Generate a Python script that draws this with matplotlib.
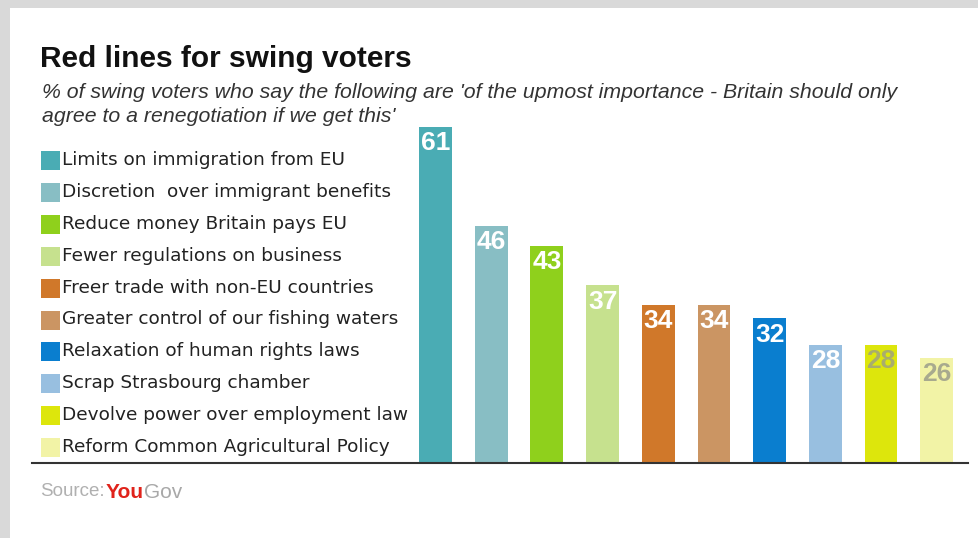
import matplotlib.pyplot as plt
from matplotlib.patches import Rectangle
from matplotlib.lines import Line2D

categories = [
    "Limits on immigration from EU",
    "Discretion  over immigrant benefits",
    "Reduce money Britain pays EU",
    "Fewer regulations on business",
    "Freer trade with non-EU countries",
    "Greater control of our fishing waters",
    "Relaxation of human rights laws",
    "Scrap Strasbourg chamber",
    "Devolve power over employment law",
    "Reform Common Agricultural Policy",
]
values = [61, 46, 43, 37, 34, 34, 32, 28, 28, 26]
colors = ["#4aacb4", "#88bec4", "#8fd01c", "#c6e18e", "#d0782a",
          "#cb9563", "#0a7ecf", "#98bfe0", "#dde60c", "#f2f3a6"]
label_colors = ["white"] * 8 + ["#a9ad6c", "#a8aa8e"]

W, H = 979, 538
sans = ["Liberation Sans", "DejaVu Sans"]
wide = ["DejaVu Sans"]

fig = plt.figure(figsize=(W / 100, H / 100), dpi=100)
fig.patch.set_facecolor("white")

def fx(px):
    return px / W

def fy(py):
    return 1 - py / H

# card shadow on top and left edges
fig.patches.append(Rectangle((0, fy(8)), 1, 8 / H, transform=fig.transFigure,
                             facecolor="#d9d9d9", edgecolor="none", zorder=0))
fig.patches.append(Rectangle((0, 0), 10 / W, 1, transform=fig.transFigure,
                             facecolor="#d9d9d9", edgecolor="none", zorder=0))

# bars
ax = fig.add_axes([fx(407.6), fy(463), fx(557), (463 - 127) / H])
x = range(len(values))
ax.bar(x, values, width=0.59, color=colors)
ax.set_xlim(-0.5, 9.5)
ax.set_ylim(10.1, 61)
ax.axis("off")
for i, v in enumerate(values):
    ax.annotate(str(v), (i, v), xytext=(0, -3), textcoords="offset points",
                ha="center", va="top", fontsize=19, fontweight="bold",
                color=label_colors[i], family=sans, annotation_clip=False)

# baseline
fig.lines.append(Line2D([fx(32), fx(968)], [fy(463), fy(463)],
                        transform=fig.transFigure, color="#333333", lw=1.5))

# title and subtitle
fig.text(fx(40), fy(59), "Red lines for swing voters", fontsize=21.5,
         fontweight="bold", family=sans, va="center", color="#111111")
fig.text(fx(42), fy(92), "% of swing voters who say the following are 'of the upmost "
         "importance - Britain should only", fontsize=15.3, style="italic",
         family=sans, va="center", color="#333333")
fig.text(fx(42), fy(116), "agree to a renegotiation if we get this'", fontsize=15.3,
         style="italic", family=sans, va="center", color="#333333")

# legend
for i, (cat, col) in enumerate(zip(categories, colors)):
    yc = 160 + i * 31.9
    fig.patches.append(Rectangle((fx(41), fy(yc + 10)), 19 / W, 19 / H,
                                 transform=fig.transFigure, facecolor=col,
                                 edgecolor="none"))
    fig.text(fx(62), fy(yc), cat, fontsize=13.3, family=wide, va="center",
             color="#222222")

# source
src = fig.text(fx(40), fy(492), "Source:", fontsize=13.5, family=sans,
               va="center", color="#b0b0b0")
fig.canvas.draw()
bb = src.get_window_extent()
you = fig.text(bb.x1 / W + 0.001, fy(492), "You", fontsize=15, family=sans,
               fontweight="bold", va="center", color="#e0231b")
bb2 = you.get_window_extent()
fig.text(bb2.x1 / W, fy(492), "Gov", fontsize=15, family=sans,
         va="center", color="#a8a8a8")

fig.savefig("out.png", dpi=100)
